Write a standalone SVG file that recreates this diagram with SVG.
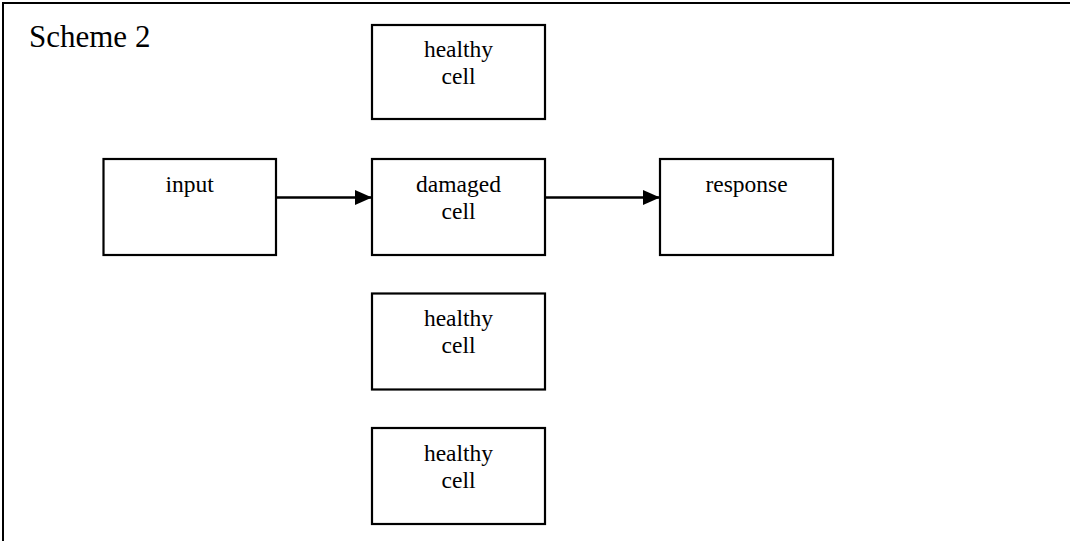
<svg xmlns="http://www.w3.org/2000/svg" width="1070" height="541" viewBox="0 0 1070 541">
<style>
.box{fill:#fff;stroke:#000;stroke-width:2.2}
.t{font-family:"Liberation Serif","Times New Roman",serif;font-size:23.5px;fill:#000;text-anchor:middle}
.title{font-family:"Liberation Serif","Times New Roman",serif;font-size:31px;fill:#000}
.edge{stroke:#000;stroke-width:2.4;fill:none}
</style>
<defs>
<marker id="ah" markerWidth="17" markerHeight="15" refX="17" refY="7.5" orient="auto" markerUnits="userSpaceOnUse">
<path d="M0,0 L17,7.5 L0,15 Z" fill="#000"/>
</marker>
</defs>
<rect width="1070" height="541" fill="#fff"/>
<rect x="3" y="3" width="1080" height="560" fill="none" stroke="#000" stroke-width="2"/>
<text class="title" x="29" y="46.5">Scheme 2</text>
<g id="connectors">
<line class="edge" x1="276" y1="197.5" x2="372" y2="197.5" marker-end="url(#ah)"/>
<line class="edge" x1="545" y1="197.5" x2="660" y2="197.5" marker-end="url(#ah)"/>
</g>
<g id="healthy1">
<rect class="box" x="372" y="25" width="173" height="94"/>
<text class="t" x="458.5" y="57">healthy</text>
<text class="t" x="458.5" y="84">cell</text>
</g>
<g id="input">
<rect class="box" x="103.5" y="159" width="172.5" height="96"/>
<text class="t" x="189.75" y="192">input</text>
</g>
<g id="damaged">
<rect class="box" x="372" y="159" width="173" height="96"/>
<text class="t" x="458.5" y="192">damaged</text>
<text class="t" x="458.5" y="219">cell</text>
</g>
<g id="response">
<rect class="box" x="660" y="159" width="173" height="96"/>
<text class="t" x="746.5" y="192">response</text>
</g>
<g id="healthy2">
<rect class="box" x="372" y="293.5" width="173" height="96"/>
<text class="t" x="458.5" y="326">healthy</text>
<text class="t" x="458.5" y="353">cell</text>
</g>
<g id="healthy3">
<rect class="box" x="372" y="428" width="173" height="96"/>
<text class="t" x="458.5" y="461">healthy</text>
<text class="t" x="458.5" y="488">cell</text>
</g>
</svg>
